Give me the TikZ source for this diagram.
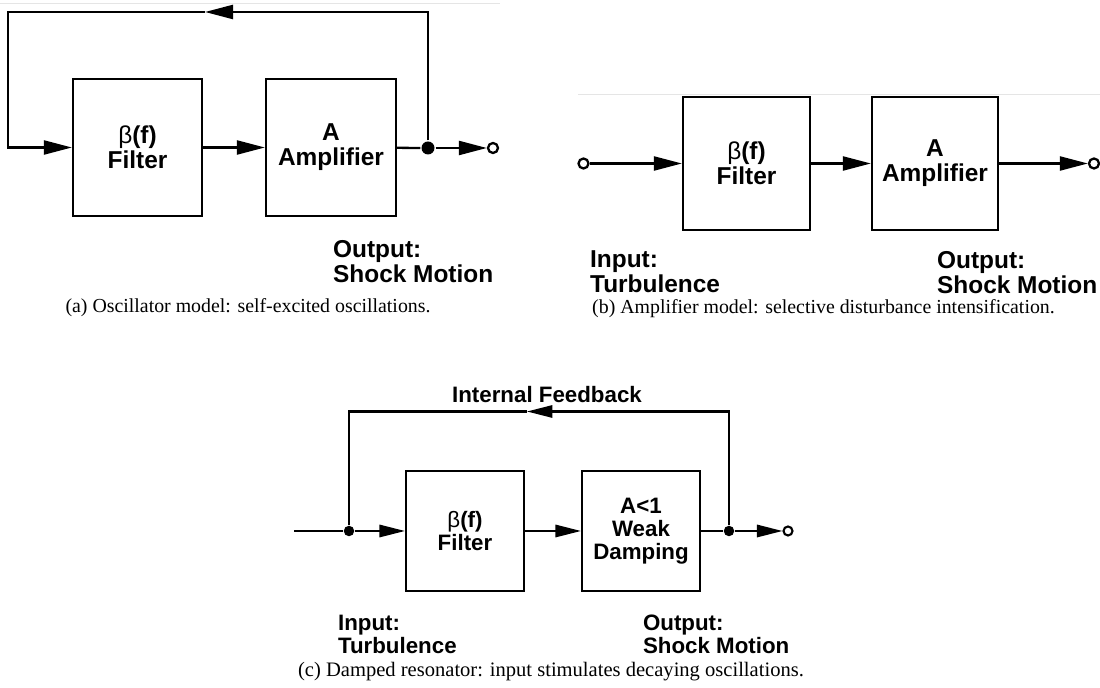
\documentclass[tikz,border=0pt]{standalone}
\usepackage{fontspec}
\setmainfont{Liberation Serif}
\setsansfont{Liberation Sans}
\usetikzlibrary{arrows.meta}

\newcommand\bigsf{\sffamily\bfseries\fontsize{13.9}{14.2}\selectfont}
\newcommand\smallsf{\sffamily\bfseries\fontsize{12.7}{13}\selectfont}
\newcommand\betaf{{\mdseries β}(f)}

\tikzset{
  block/.style={draw, inner sep=0pt, align=center},
  tag/.style={anchor=north west, inner sep=0pt, align=left},
  joint/.style={circle, fill, inner sep=0pt, minimum size=0.26cm},
  port/.style={circle, draw, fill=white, inner sep=0pt, minimum size=0.2cm},
  subcap/.style={anchor=base, inner sep=0pt, font=\fontsize{11.3}{13}\selectfont},
  frame/.style={draw=black!10, line width=0.5pt}
}

\begin{document}
\begin{tikzpicture}[x=0.02cm, y=-0.02cm, line width=1.3pt, >={Triangle[length=16pt,width=8pt]}]
        \useasboundingbox (0,0) rectangle (1100,688);

        % (a) oscillator: filter and amplifier in a closed loop
        \draw[frame] (0,3) -- (500,3);
        \node[block, minimum width=2.58cm, minimum height=2.74cm, font=\bigsf] (filtA) at (137.5,147.5) {\betaf\\Filter};
        \node[block, minimum width=2.6cm, minimum height=2.74cm, font=\bigsf] (ampA) at (331,147.5) {A\\Amplifier};
        \node[joint] (tapA) at (428,148) {};
        \node[port] (outA) at (493,148) {};
        \coordinate (topA) at (428,12);
        \coordinate (arrA) at (205,12);
        \coordinate (cornA) at (8,12);
        \draw[->] (filtA) -- (ampA);
        \draw (ampA) -- (tapA);
        \draw[->] (tapA) -- (outA);
        \draw[->] (tapA) -- (topA) -- (arrA);
        \draw[->] (arrA) -- (cornA) |- (filtA);
        \node[tag, font=\bigsf] (labA) at (332,239) {Output:\\Shock Motion};
        \node[subcap] (capA) at (248,313) {(a) Oscillator model: self-excited oscillations.};

        % (b) amplifier: open chain from input to output
        \draw[frame] (578,94) -- (1100,94);
        \node[port] (inB) at (583.5,163.5) {};
        \node[block, minimum width=2.54cm, minimum height=2.66cm, font=\bigsf] (filtB) at (746.5,163.5) {\betaf\\Filter};
        \node[block, minimum width=2.52cm, minimum height=2.66cm, font=\bigsf] (ampB) at (935,163.5) {A\\Amplifier};
        \node[port] (outB) at (1094,163.5) {};
        \draw[->] (inB) -- (filtB);
        \draw[->] (filtB) -- (ampB);
        \draw[->] (ampB) -- (outB);
        \node[tag, font=\bigsf] (inlabB) at (589,250) {Input:\\Turbulence};
        \node[tag, font=\bigsf] (outlabB) at (936,250) {Output:\\Shock Motion};
        \node[subcap] (capB) at (823.5,314) {(b) Amplifier model: selective disturbance intensification.};

        % (c) damped resonator with internal feedback
        \begin{scope}[line width=1.2pt, >={Triangle[length=14.5pt,width=7pt]},
            joint/.append style={minimum size=0.21cm}, port/.append style={minimum size=0.18cm}]
        \node[block, minimum width=2.36cm, minimum height=2.4cm, font=\smallsf] (filtC) at (465,531) {\betaf\\Filter};
        \node[block, minimum width=2.36cm, minimum height=2.4cm, font=\smallsf] (dampC) at (641,531) {A<1\\Weak\\Damping};
        \coordinate (inC) at (294,531);
        \node[joint] (splitC) at (349,531) {};
        \node[joint] (tapC) at (729,531) {};
        \node[port] (outC) at (788,531) {};
        \coordinate (topRC) at (729,411.5);
        \coordinate (arrC) at (527,411.5);
        \coordinate (topLC) at (349,411.5);
        \draw (inC) -- (splitC);
        \draw[->] (splitC) -- (filtC);
        \draw[->] (filtC) -- (dampC);
        \draw (dampC) -- (tapC);
        \draw[->] (tapC) -- (outC);
        \draw[->] (tapC) -- (topRC) -- (arrC);
        \draw (arrC) -- (topLC) -- (splitC);
        \node[anchor=base, inner sep=0pt, font=\smallsf] (fbC) at (547,403) {Internal Feedback};
        \node[tag, font=\smallsf] (inlabC) at (337,614) {Input:\\Turbulence};
        \node[tag, font=\smallsf] (outlabC) at (642,614) {Output:\\Shock Motion};
        \end{scope}
        \node[subcap, font=\fontsize{11.7}{13}\selectfont] (capC) at (551,677) {(c) Damped resonator: input stimulates decaying oscillations.};
\end{tikzpicture}
\end{document}
